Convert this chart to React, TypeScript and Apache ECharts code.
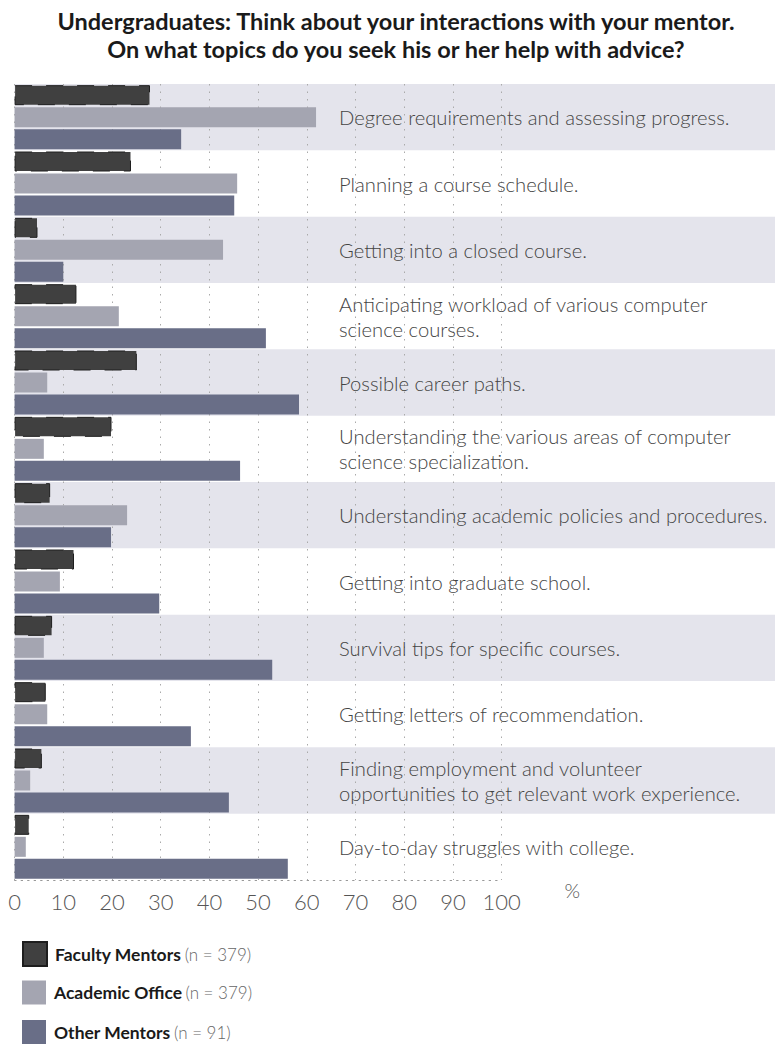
import React, { useEffect, useRef } from "react";
import * as echarts from "echarts";

const titleLines = [
  "Undergraduates: Think about your interactions with your mentor.",
  "On what topics do you seek his or her help with advice?",
];

const categories = [
  "Degree requirements and assessing progress.",
  "Planning a course schedule.",
  "Getting into a closed course.",
  "Anticipating workload of various computer\nscience courses.",
  "Possible career paths.",
  "Understanding the various areas of computer\nscience specialization.",
  "Understanding academic policies and procedures.",
  "Getting into graduate school.",
  "Survival tips for specific courses.",
  "Getting letters of recommendation.",
  "Finding employment and volunteer\nopportunities to get relevant work experience.",
  "Day-to-day struggles with college.",
];

const seriesNames = ["Faculty Mentors", "Academic Office", "Other Mentors"];
const sampleSizes = ["379", "379", "91"];

const facultyMentors = [27.8, 23.9, 4.7, 12.7, 25.1, 19.9, 7.3, 12.2, 7.7, 6.4, 5.6, 3.0];
const academicOffice = [61.9, 45.7, 42.8, 21.4, 6.7, 6.0, 23.1, 9.3, 6.0, 6.7, 3.2, 2.3];
const otherMentors = [34.2, 45.1, 10.0, 51.6, 58.4, 46.3, 19.8, 29.7, 52.9, 36.2, 44.0, 56.1];

const xTicks = { min: 0, max: 100, interval: 10 };
const unitLabel = "%";

const colors = ["#404040", "#a4a5b1", "#696e87"];
const bandColor = "#e4e4ec";
const FONT = "Lato, 'Noto Sans', sans-serif";

export default function App() {
  const ref = useRef<HTMLDivElement>(null);

  useEffect(() => {
    document.body.style.margin = "0";
    if (!ref.current) return;
    const chart = echarts.init(ref.current, undefined, { renderer: "svg" });

    const bandShade = categories.map((_, i) => (i % 2 === 0 ? 1 : 0));
    const seriesData = [facultyMentors, academicOffice, otherMentors];

    const option: any = {
      animation: false,
      backgroundColor: "#ffffff",
      title: titleLines.map((t, i) => ({
        text: t,
        left: 396,
        textAlign: "center",
        top: 6 + i * 28,
        padding: 0,
        textStyle: {
          fontFamily: FONT,
          fontSize: 23.5,
          fontWeight: "bold",
          color: "#1a1a1a",
          lineHeight: 30,
        },
      })),
      legend: seriesNames.map((name, i) => ({
        orient: "vertical",
        left: 22,
        top: 941 + i * 39.5,
        padding: 0,
        itemWidth: 24,
        itemHeight: 24,
        icon: "rect",
        data: [name],
        formatter: (n: string) => `{b|${n}} {n|(n = ${sampleSizes[i]})}`,
        textStyle: {
          padding: [0, 0, 0, 3],
          rich: {
            b: { fontFamily: FONT, fontSize: 17.5, fontWeight: "bold", color: "#1a1a1a" },
            n: { fontFamily: FONT, fontSize: 17, fontWeight: 300, color: "#666666" },
          },
        },
      })),
      grid: [
        { left: 14.6, width: 487, top: 84, height: 796, containLabel: false },
        { left: 14.6, right: 0, top: 84, height: 796, containLabel: false },
      ],
      xAxis: [
        {
          type: "value",
          gridIndex: 0,
          min: xTicks.min,
          max: xTicks.max,
          interval: xTicks.interval,
          z: 1,
          name: unitLabel,
          nameLocation: "end",
          nameGap: 63,
          nameTextStyle: {
            fontFamily: FONT,
            fontSize: 20,
            fontWeight: 300,
            color: "#555555",
            verticalAlign: "top",
            lineHeight: 20,
          },
          axisLine: { show: true, lineStyle: { color: "#999999", type: [1.5, 5], width: 1 } },
          axisTick: { show: false },
          splitLine: { show: true, lineStyle: { color: "#aaaaaa", type: [1.5, 6], width: 1 } },
          axisLabel: {
            fontFamily: FONT,
            fontSize: 22,
            fontWeight: 300,
            color: "#555555",
            margin: 10,
          },
        },
        { type: "value", gridIndex: 1, min: 0, max: 1, show: false },
      ],
      yAxis: [
        {
          type: "category",
          gridIndex: 0,
          data: categories,
          inverse: true,
          z: 1,
          axisLine: { show: false },
          axisTick: { show: false },
          splitLine: { show: false },
          axisLabel: {
            inside: true,
            interval: 0,
            margin: 324.4,
            align: "left",
            fontFamily: FONT,
            fontSize: 20.2,
            fontWeight: 300,
            lineHeight: 25,
            color: "#444444",
          },
        },
        { type: "category", gridIndex: 1, data: categories, inverse: true, show: false },
      ],
      series: [
        {
          type: "bar",
          xAxisIndex: 1,
          yAxisIndex: 1,
          data: bandShade,
          barWidth: "100%",
          silent: true,
          z: 0,
          itemStyle: { color: bandColor },
        },
        ...seriesData.map((d, i) => ({
          name: seriesNames[i],
          type: "bar",
          xAxisIndex: 0,
          yAxisIndex: 0,
          data: d,
          barWidth: 20,
          barGap: "10%",
          z: 2,
          itemStyle:
            i === 0
              ? { color: colors[i], borderColor: "#1e1e1e", borderWidth: 1, borderType: [17, 14] }
              : { color: colors[i] },
        })),
      ],
    };

    chart.setOption(option);
    return () => chart.dispose();
  }, []);

  return <div ref={ref} style={{ width: 775, height: 1044 }} />;
}
